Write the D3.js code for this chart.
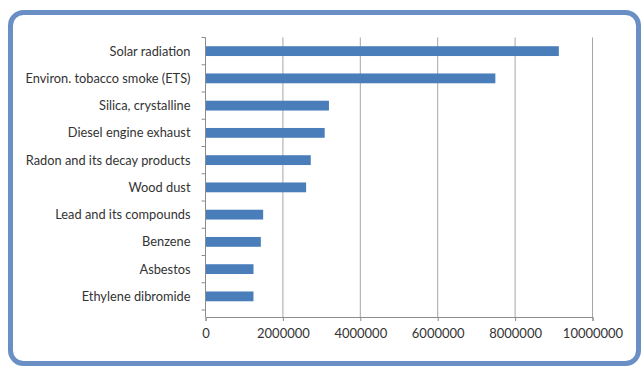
<!DOCTYPE html>
<html>
<head>
<meta charset="utf-8">
<script src="https://cdn.jsdelivr.net/npm/d3@7"></script>
<style>
  html, body { margin: 0; padding: 0; background: #fff; }
  svg { display: block; }
</style>
</head>
<body>
<div id="chart"></div>
<script>
// data
const categories = [
  "Solar radiation",
  "Environ. tobacco smoke (ETS)",
  "Silica, crystalline",
  "Diesel engine exhaust",
  "Radon and its decay products",
  "Wood dust",
  "Lead and its compounds",
  "Benzene",
  "Asbestos",
  "Ethylene dibromide"
];
const values = [9130000, 7490000, 3190000, 3080000, 2720000, 2600000, 1490000, 1430000, 1240000, 1240000];
const xTicks = [0, 2000000, 4000000, 6000000, 8000000, 10000000];

const width = 642, height = 367;
const plotLeft = 205.5, plotRight = 592.5;
const plotTop = 37.5, bandBottom = 310, axisY = 317;

const svg = d3.select("#chart").append("svg")
  .attr("width", width)
  .attr("height", height);

// slide frame
svg.append("rect")
  .attr("x", 10.5).attr("y", 12.5)
  .attr("width", 628).attr("height", 351)
  .attr("rx", 13).attr("ry", 13)
  .attr("fill", "#fff")
  .attr("stroke", "#6a8fc5")
  .attr("stroke-width", 5);

const x = d3.scaleLinear()
  .domain([0, 10000000])
  .range([plotLeft, plotRight]);

const y = d3.scaleBand()
  .domain(categories)
  .range([plotTop, bandBottom])
  .paddingInner(0.64)
  .paddingOuter(0.32);

const font = "Lato, 'Open Sans', sans-serif";

// gridlines
svg.selectAll(".grid")
  .data(xTicks.slice(1))
  .join("line")
  .attr("class", "grid")
  .attr("x1", d => x(d)).attr("x2", d => x(d))
  .attr("y1", plotTop).attr("y2", axisY)
  .attr("stroke", "#a6a6a6")
  .attr("stroke-width", 1);

// bars
svg.selectAll(".bar")
  .data(categories)
  .join("rect")
  .attr("class", "bar")
  .attr("x", x(0))
  .attr("y", d => y(d))
  .attr("width", (d, i) => x(values[i]) - x(0))
  .attr("height", y.bandwidth())
  .attr("fill", "#4a7ebb");

// x axis
const xAxis = svg.append("g")
  .attr("transform", `translate(0,${axisY})`)
  .call(d3.axisBottom(x).tickValues(xTicks).tickFormat(d3.format("d")).tickSizeOuter(0).tickSize(4).tickPadding(8));
xAxis.select(".domain").attr("stroke", "#8c8c8c");
xAxis.selectAll(".tick line").attr("stroke", "#8c8c8c");
xAxis.selectAll("text")
  .attr("font-family", font)
  .attr("font-size", "13px")
  .attr("fill", "#333");

// y axis (category boundaries as ticks)
const bounds = d3.range(categories.length + 1).map(i => plotTop + i * y.step());
svg.append("line")
  .attr("x1", plotLeft).attr("x2", plotLeft)
  .attr("y1", plotTop).attr("y2", axisY)
  .attr("stroke", "#8c8c8c");
svg.selectAll(".ytick")
  .data(bounds)
  .join("line")
  .attr("class", "ytick")
  .attr("x1", plotLeft - 4).attr("x2", plotLeft)
  .attr("y1", d => d).attr("y2", d => d)
  .attr("stroke", "#8c8c8c");

svg.selectAll(".ylabel")
  .data(categories)
  .join("text")
  .attr("class", "ylabel")
  .attr("x", plotLeft - 15)
  .attr("y", d => y(d) + y.bandwidth() / 2)
  .attr("dy", "0.35em")
  .attr("text-anchor", "end")
  .attr("font-family", font)
  .attr("font-size", "12.8px")
  .attr("fill", "#333")
  .text(d => d);
</script>
</body>
</html>
